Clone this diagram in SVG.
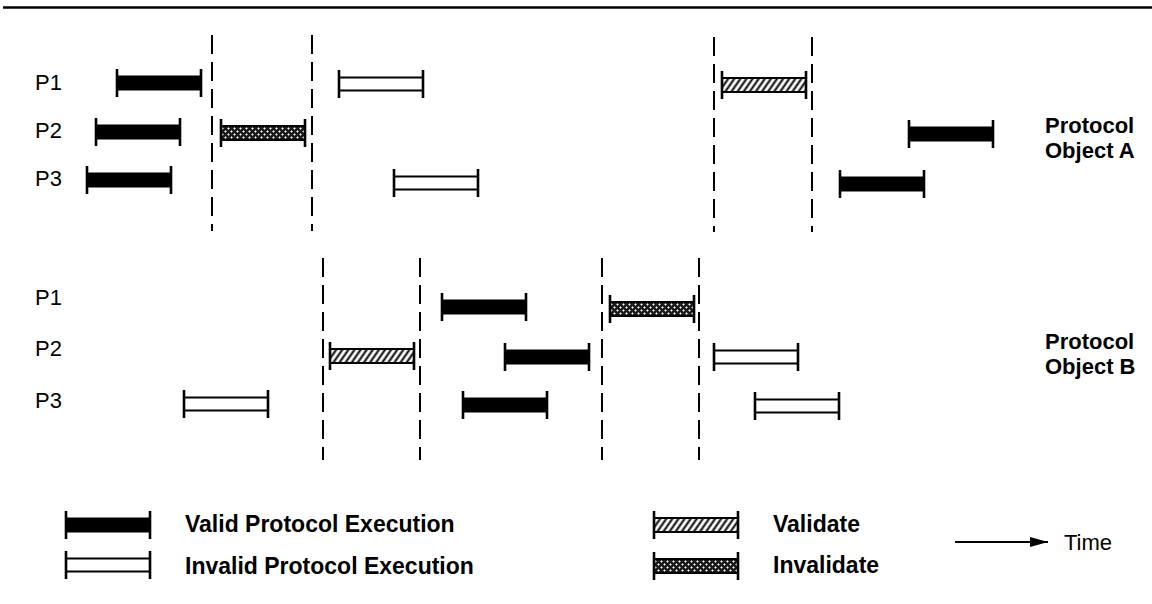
<svg xmlns="http://www.w3.org/2000/svg" width="1152" height="604" viewBox="0 0 1152 604">
<style>
  .tick{stroke:#000;stroke-width:2.6;fill:none}
  .edge{stroke:#000;stroke-width:2.2;fill:none}
  .div{stroke:#000;stroke-width:2;stroke-dasharray:19 8;fill:none}
  .lbl{font-family:"Liberation Sans",Arial,Helvetica,sans-serif;font-size:22px;fill:#000}
  .bold{font-family:"Liberation Sans",Arial,Helvetica,sans-serif;font-size:23px;font-weight:bold;fill:#000}
  .title{font-family:"Liberation Sans",Arial,Helvetica,sans-serif;font-size:22px;font-weight:bold;fill:#000}
</style>
<defs>
  <pattern id="hatch" width="5" height="5" patternUnits="userSpaceOnUse" patternTransform="rotate(35)">
    <rect width="5" height="5" fill="#fff"/>
    <line x1="1.5" y1="0" x2="1.5" y2="5" stroke="#000" stroke-width="2"/>
  </pattern>
  <pattern id="cross" width="6" height="6" patternUnits="userSpaceOnUse">
    <rect width="6" height="6" fill="#1a1a1a"/>
    <path d="M1.5 0.4v2.2M0.4 1.5h2.2M4.5 3.4v2.2M3.4 4.5h2.2" stroke="#fff" stroke-width="0.9"/>
  </pattern>
  <g id="valid">
    <rect x="0" y="-7.5" width="84" height="15" fill="#000"/>
    <path class="tick" d="M0 -14V14M84 -14V14"/>
  </g>
  <g id="invalid">
    <path class="edge" d="M0 -6.5H84M0 6.5H84"/>
    <path class="tick" d="M0 -14V14M84 -14V14"/>
  </g>
  <g id="validate">
    <rect x="0" y="-7" width="84" height="14" fill="url(#hatch)" stroke="#000" stroke-width="2"/>
    <path class="tick" d="M0 -14V14M84 -14V14"/>
  </g>
  <g id="invalidate">
    <rect x="0" y="-7" width="84" height="14" fill="url(#cross)" stroke="#000" stroke-width="2"/>
    <path class="tick" d="M0 -14V14M84 -14V14"/>
  </g>
  <marker id="head" markerUnits="userSpaceOnUse" markerWidth="20" markerHeight="12" refX="18" refY="5" orient="auto">
    <path d="M0 0L18 5L0 10z" fill="#000"/>
  </marker>
</defs>

<rect width="1152" height="604" fill="#fff"/>
<line x1="3" y1="7.5" x2="1152" y2="7.5" stroke="#000" stroke-width="2.5"/>

<g id="dividers">
  <line class="div" x1="212" y1="35" x2="212" y2="231"/>
  <line class="div" x1="312" y1="35" x2="312" y2="231"/>
  <line class="div" x1="714" y1="37" x2="714" y2="232"/>
  <line class="div" x1="812" y1="37" x2="812" y2="232"/>
  <line class="div" x1="323" y1="258" x2="323" y2="460"/>
  <line class="div" x1="420" y1="258" x2="420" y2="460"/>
  <line class="div" x1="602" y1="258" x2="602" y2="460"/>
  <line class="div" x1="699" y1="258" x2="699" y2="460"/>
</g>

<g id="labels-a">
  <text class="lbl" x="35" y="90">P1</text>
  <text class="lbl" x="35" y="138">P2</text>
  <text class="lbl" x="35" y="186">P3</text>
</g>
<g id="labels-b">
  <text class="lbl" x="35" y="305">P1</text>
  <text class="lbl" x="35" y="356">P2</text>
  <text class="lbl" x="35" y="408">P3</text>
</g>

<g id="objA-p1-valid" transform="translate(117,83)"><use href="#valid"/></g>
<g id="objA-p2-valid" transform="translate(96,132)"><use href="#valid"/></g>
<g id="objA-p3-valid" transform="translate(87,180)"><use href="#valid"/></g>
<g id="objA-p2-invalidate" transform="translate(221,133)"><use href="#invalidate"/></g>
<g id="objA-p1-invalid" transform="translate(339,84)"><use href="#invalid"/></g>
<g id="objA-p3-invalid" transform="translate(394,183)"><use href="#invalid"/></g>
<g id="objA-p1-validate" transform="translate(722,85)"><use href="#validate"/></g>
<g id="objA-p2-valid2" transform="translate(909,134)"><use href="#valid"/></g>
<g id="objA-p3-valid2" transform="translate(840,184)"><use href="#valid"/></g>

<g id="objB-p3-invalid" transform="translate(184,404)"><use href="#invalid"/></g>
<g id="objB-p2-validate" transform="translate(330,356)"><use href="#validate"/></g>
<g id="objB-p1-valid" transform="translate(442,307)"><use href="#valid"/></g>
<g id="objB-p2-valid" transform="translate(505,357)"><use href="#valid"/></g>
<g id="objB-p3-valid" transform="translate(463,405)"><use href="#valid"/></g>
<g id="objB-p1-invalidate" transform="translate(610,309)"><use href="#invalidate"/></g>
<g id="objB-p2-invalid" transform="translate(714,357)"><use href="#invalid"/></g>
<g id="objB-p3-invalid2" transform="translate(755,406)"><use href="#invalid"/></g>

<g id="title-a">
  <text class="title" x="1045" y="133">Protocol</text>
  <text class="title" x="1045" y="158">Object A</text>
</g>
<g id="title-b">
  <text class="title" x="1045" y="349">Protocol</text>
  <text class="title" x="1045" y="374">Object B</text>
</g>

<g id="legend">
  <g id="legend-valid" transform="translate(66,525)"><use href="#valid"/></g>
  <text class="bold" x="185" y="532">Valid Protocol Execution</text>
  <g id="legend-invalid" transform="translate(66,565)"><use href="#invalid"/></g>
  <text class="bold" x="185" y="574">Invalid Protocol Execution</text>
  <g id="legend-validate" transform="translate(654,525)"><use href="#validate"/></g>
  <text class="bold" x="773" y="532">Validate</text>
  <g id="legend-invalidate" transform="translate(654,566)"><use href="#invalidate"/></g>
  <text class="bold" x="773" y="573">Invalidate</text>
</g>

<g id="connectors">
  <line x1="955" y1="542" x2="1048" y2="542" stroke="#000" stroke-width="2" marker-end="url(#head)"/>
</g>
<g id="time-label">
  <text class="lbl" x="1064" y="550">Time</text>
</g>
</svg>
